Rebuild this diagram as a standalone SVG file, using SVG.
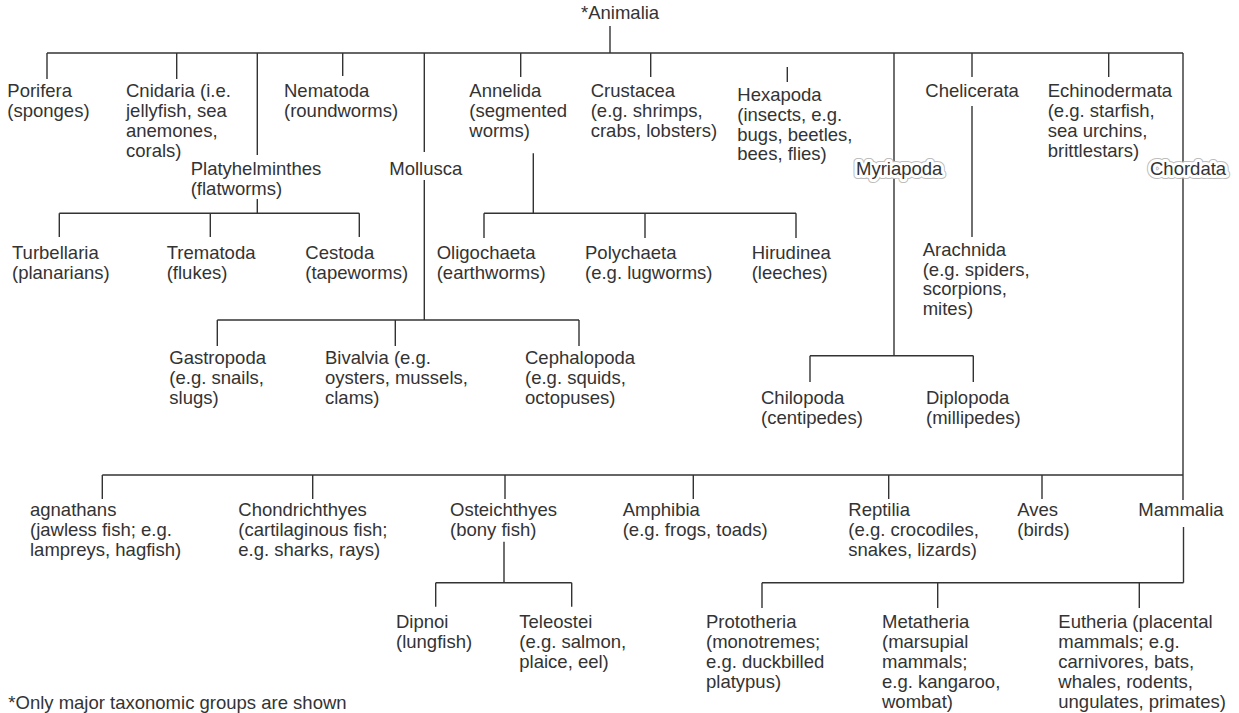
<svg xmlns="http://www.w3.org/2000/svg" width="1239" height="713" viewBox="0 0 1239 713">
<style>
text{font-family:"Liberation Sans",Arial,sans-serif;font-size:18.5px;fill:#333}
.c line,.c path{stroke:#333;stroke-width:1.4;fill:none}
.halo1{stroke:#bdbdbd;stroke-width:8;stroke-linejoin:round;fill:#bdbdbd}
.halo2{stroke:#fff;stroke-width:6;stroke-linejoin:round;fill:#fff}
</style>
<rect width="1239" height="713" fill="#fff"/>
<g class="c" id="connectors">
<!-- top level -->
<line x1="610" y1="26" x2="610" y2="53"/>
<line x1="47" y1="53" x2="1183" y2="53"/>
<line x1="47" y1="53" x2="47" y2="79"/>
<line x1="176.7" y1="53" x2="176.7" y2="79"/>
<line x1="257.3" y1="53" x2="257.3" y2="155"/>
<line x1="342.7" y1="53" x2="342.7" y2="76"/>
<line x1="424.3" y1="53" x2="424.3" y2="152"/>
<line x1="424.3" y1="180" x2="424.3" y2="320"/>
<line x1="520.7" y1="53" x2="520.7" y2="77"/>
<line x1="650.7" y1="53" x2="650.7" y2="77"/>
<line x1="787.3" y1="67" x2="787.3" y2="82"/>
<line x1="894" y1="53" x2="894" y2="355.7"/>
<line x1="972" y1="53" x2="972" y2="77"/>
<line x1="972" y1="106" x2="972" y2="237"/>
<line x1="1108.7" y1="53" x2="1108.7" y2="77"/>
<line x1="1183" y1="53" x2="1183" y2="500"/>
<!-- Platyhelminthes -->
<line x1="257.3" y1="199" x2="257.3" y2="213.3"/>
<line x1="59.3" y1="213.3" x2="359.3" y2="213.3"/>
<line x1="59.3" y1="213.3" x2="59.3" y2="237"/>
<line x1="210.3" y1="213.3" x2="210.3" y2="237"/>
<line x1="359.3" y1="213.3" x2="359.3" y2="237"/>
<!-- Annelida -->
<line x1="533.3" y1="153.3" x2="533.3" y2="213.3"/>
<line x1="484" y1="213.3" x2="796" y2="213.3"/>
<line x1="484" y1="213.3" x2="484" y2="238"/>
<line x1="645" y1="213.3" x2="645" y2="238"/>
<line x1="796" y1="213.3" x2="796" y2="238"/>
<!-- Mollusca -->
<line x1="217.3" y1="320" x2="579" y2="320"/>
<line x1="217.3" y1="320" x2="217.3" y2="346"/>
<line x1="395.3" y1="320" x2="395.3" y2="346"/>
<line x1="579" y1="320" x2="579" y2="346"/>
<!-- Myriapoda -->
<line x1="810" y1="355.7" x2="973.3" y2="355.7"/>
<line x1="810" y1="355.7" x2="810" y2="382"/>
<line x1="973.3" y1="355.7" x2="973.3" y2="382"/>
<!-- Chordata -->
<line x1="102.3" y1="475" x2="1183" y2="475"/>
<line x1="102.3" y1="475" x2="102.3" y2="499"/>
<line x1="312.7" y1="475" x2="312.7" y2="499"/>
<line x1="505" y1="475" x2="505" y2="499"/>
<line x1="693.3" y1="475" x2="693.3" y2="499"/>
<line x1="888.7" y1="475" x2="888.7" y2="499"/>
<line x1="1042" y1="475" x2="1042" y2="499"/>
<!-- Osteichthyes -->
<line x1="504" y1="541.7" x2="504" y2="582.7"/>
<line x1="435.7" y1="582.7" x2="571.7" y2="582.7"/>
<line x1="435.7" y1="582.7" x2="435.7" y2="606.7"/>
<line x1="571.7" y1="582.7" x2="571.7" y2="606.7"/>
<!-- Mammalia -->
<line x1="1183.5" y1="527" x2="1183.5" y2="582.7"/>
<line x1="762" y1="582.7" x2="1183.5" y2="582.7"/>
<line x1="762" y1="582.7" x2="762" y2="608"/>
<line x1="937.7" y1="582.7" x2="937.7" y2="608"/>
<line x1="1139.3" y1="582.7" x2="1139.3" y2="608"/>
</g>

<g id="animalia"><text x="581" y="19">*Animalia</text></g>
<g id="porifera"><text x="7.3" y="97.3"><tspan x="7.3">Porifera</tspan><tspan x="7.3" dy="19.8">(sponges)</tspan></text></g>
<g id="cnidaria"><text x="126" y="97.3"><tspan x="126">Cnidaria (i.e.</tspan><tspan x="126" dy="19.8">jellyfish, sea</tspan><tspan x="126" dy="19.8">anemones,</tspan><tspan x="126" dy="19.8">corals)</tspan></text></g>
<g id="nematoda"><text x="284" y="97.3"><tspan x="284">Nematoda</tspan><tspan x="284" dy="19.8">(roundworms)</tspan></text></g>
<g id="platyhelminthes"><text x="190.7" y="175"><tspan x="190.7">Platyhelminthes</tspan><tspan x="190.7" dy="19.8">(flatworms)</tspan></text></g>
<g id="mollusca"><text x="389.3" y="175">Mollusca</text></g>
<g id="annelida"><text x="469.3" y="97.3"><tspan x="469.3">Annelida</tspan><tspan x="469.3" dy="19.8">(segmented</tspan><tspan x="469.3" dy="19.8">worms)</tspan></text></g>
<g id="crustacea"><text x="590.7" y="97.3"><tspan x="590.7">Crustacea</tspan><tspan x="590.7" dy="19.8">(e.g. shrimps,</tspan><tspan x="590.7" dy="19.8">crabs, lobsters)</tspan></text></g>
<g id="hexapoda"><text x="737.3" y="101"><tspan x="737.3">Hexapoda</tspan><tspan x="737.3" dy="19.8">(insects, e.g.</tspan><tspan x="737.3" dy="19.8">bugs, beetles,</tspan><tspan x="737.3" dy="19.8">bees, flies)</tspan></text></g>
<g id="myriapoda"><text x="856" y="175" class="halo1">Myriapoda</text><text x="856" y="175" class="halo2">Myriapoda</text><text x="856" y="175">Myriapoda</text></g>
<g id="chelicerata"><text x="925.3" y="97.3">Chelicerata</text></g>
<g id="echinodermata"><text x="1047.7" y="97.3"><tspan x="1047.7">Echinodermata</tspan><tspan x="1047.7" dy="19.8">(e.g. starfish,</tspan><tspan x="1047.7" dy="19.8">sea urchins,</tspan><tspan x="1047.7" dy="19.8">brittlestars)</tspan></text></g>
<g id="chordata"><text x="1150" y="175" class="halo1">Chordata</text><text x="1150" y="175" class="halo2">Chordata</text><text x="1150" y="175">Chordata</text></g>

<g id="turbellaria"><text x="12" y="259.3"><tspan x="12">Turbellaria</tspan><tspan x="12" dy="19.8">(planarians)</tspan></text></g>
<g id="trematoda"><text x="166.7" y="259.3"><tspan x="166.7">Trematoda</tspan><tspan x="166.7" dy="19.8">(flukes)</tspan></text></g>
<g id="cestoda"><text x="305.3" y="259.3"><tspan x="305.3">Cestoda</tspan><tspan x="305.3" dy="19.8">(tapeworms)</tspan></text></g>
<g id="oligochaeta"><text x="436.7" y="259.3"><tspan x="436.7">Oligochaeta</tspan><tspan x="436.7" dy="19.8">(earthworms)</tspan></text></g>
<g id="polychaeta"><text x="585" y="259.3"><tspan x="585">Polychaeta</tspan><tspan x="585" dy="19.8">(e.g. lugworms)</tspan></text></g>
<g id="hirudinea"><text x="751.7" y="259.3"><tspan x="751.7">Hirudinea</tspan><tspan x="751.7" dy="19.8">(leeches)</tspan></text></g>
<g id="arachnida"><text x="922.7" y="255.7"><tspan x="922.7">Arachnida</tspan><tspan x="922.7" dy="19.8">(e.g. spiders,</tspan><tspan x="922.7" dy="19.8">scorpions,</tspan><tspan x="922.7" dy="19.8">mites)</tspan></text></g>

<g id="gastropoda"><text x="169.3" y="364"><tspan x="169.3">Gastropoda</tspan><tspan x="169.3" dy="19.8">(e.g. snails,</tspan><tspan x="169.3" dy="19.8">slugs)</tspan></text></g>
<g id="bivalvia"><text x="325" y="364"><tspan x="325">Bivalvia (e.g.</tspan><tspan x="325" dy="19.8">oysters, mussels,</tspan><tspan x="325" dy="19.8">clams)</tspan></text></g>
<g id="cephalopoda"><text x="525" y="364"><tspan x="525">Cephalopoda</tspan><tspan x="525" dy="19.8">(e.g. squids,</tspan><tspan x="525" dy="19.8">octopuses)</tspan></text></g>
<g id="chilopoda"><text x="761" y="404"><tspan x="761">Chilopoda</tspan><tspan x="761" dy="19.8">(centipedes)</tspan></text></g>
<g id="diplopoda"><text x="926" y="404"><tspan x="926">Diplopoda</tspan><tspan x="926" dy="19.8">(millipedes)</tspan></text></g>

<g id="agnathans"><text x="30" y="516"><tspan x="30">agnathans</tspan><tspan x="30" dy="19.8">(jawless fish; e.g.</tspan><tspan x="30" dy="19.8">lampreys, hagfish)</tspan></text></g>
<g id="chondrichthyes"><text x="238.3" y="516"><tspan x="238.3">Chondrichthyes</tspan><tspan x="238.3" dy="19.8">(cartilaginous fish;</tspan><tspan x="238.3" dy="19.8">e.g. sharks, rays)</tspan></text></g>
<g id="osteichthyes"><text x="450" y="516"><tspan x="450">Osteichthyes</tspan><tspan x="450" dy="19.8">(bony fish)</tspan></text></g>
<g id="amphibia"><text x="622.7" y="516"><tspan x="622.7">Amphibia</tspan><tspan x="622.7" dy="19.8">(e.g. frogs, toads)</tspan></text></g>
<g id="reptilia"><text x="848.3" y="516"><tspan x="848.3">Reptilia</tspan><tspan x="848.3" dy="19.8">(e.g. crocodiles,</tspan><tspan x="848.3" dy="19.8">snakes, lizards)</tspan></text></g>
<g id="aves"><text x="1017.3" y="516"><tspan x="1017.3">Aves</tspan><tspan x="1017.3" dy="19.8">(birds)</tspan></text></g>
<g id="mammalia"><text x="1138.3" y="516">Mammalia</text></g>

<g id="dipnoi"><text x="396" y="628.3"><tspan x="396">Dipnoi</tspan><tspan x="396" dy="19.8">(lungfish)</tspan></text></g>
<g id="teleostei"><text x="519.3" y="628.3"><tspan x="519.3">Teleostei</tspan><tspan x="519.3" dy="19.8">(e.g. salmon,</tspan><tspan x="519.3" dy="19.8">plaice, eel)</tspan></text></g>
<g id="prototheria"><text x="706" y="628.3"><tspan x="706">Prototheria</tspan><tspan x="706" dy="19.8">(monotremes;</tspan><tspan x="706" dy="19.8">e.g. duckbilled</tspan><tspan x="706" dy="19.8">platypus)</tspan></text></g>
<g id="metatheria"><text x="882" y="628.3"><tspan x="882">Metatheria</tspan><tspan x="882" dy="19.8">(marsupial</tspan><tspan x="882" dy="19.8">mammals;</tspan><tspan x="882" dy="19.8">e.g. kangaroo,</tspan><tspan x="882" dy="19.8">wombat)</tspan></text></g>
<g id="eutheria"><text x="1058.3" y="628.3"><tspan x="1058.3">Eutheria (placental</tspan><tspan x="1058.3" dy="19.8">mammals; e.g.</tspan><tspan x="1058.3" dy="19.8">carnivores, bats,</tspan><tspan x="1058.3" dy="19.8">whales, rodents,</tspan><tspan x="1058.3" dy="19.8">ungulates, primates)</tspan></text></g>

<g id="footnote"><text x="8.3" y="708.5">*Only major taxonomic groups are shown</text></g>
</svg>
